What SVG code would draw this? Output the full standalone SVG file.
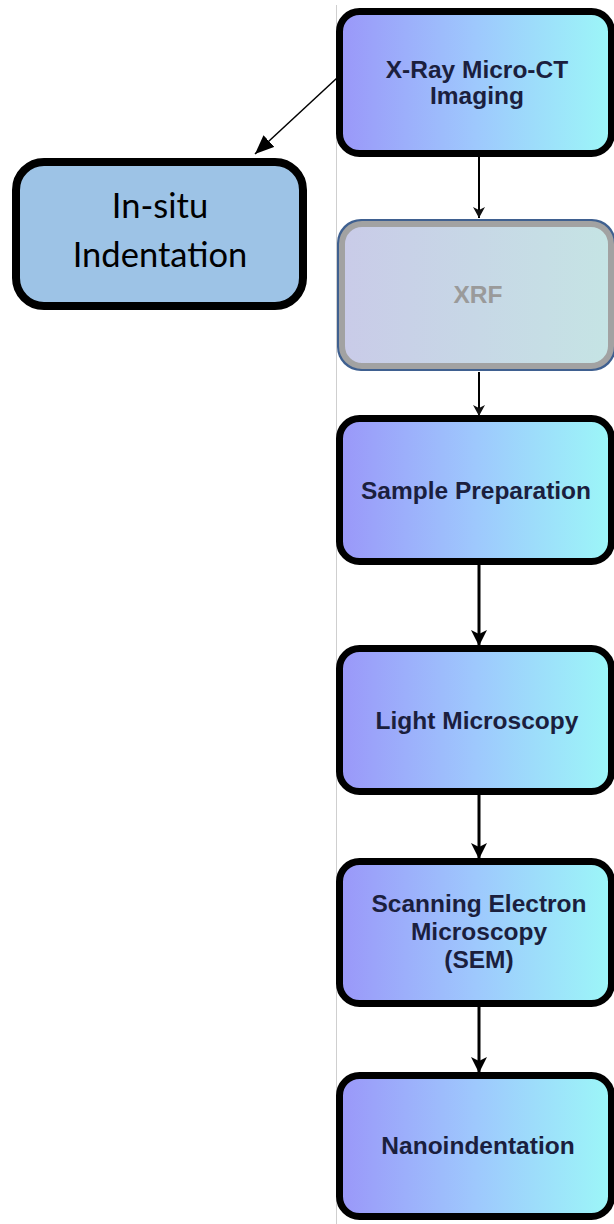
<svg xmlns="http://www.w3.org/2000/svg" width="614" height="1224" viewBox="0 0 614 1224">
<defs>
<linearGradient id="g" x1="0" y1="0" x2="1" y2="0">
<stop offset="0" stop-color="#9a97f9"/>
<stop offset="0.5" stop-color="#9ec8fd"/>
<stop offset="1" stop-color="#9cf7f8"/>
</linearGradient>
<linearGradient id="gx" x1="0" y1="0" x2="1" y2="0">
<stop offset="0" stop-color="#c9cbe8"/>
<stop offset="1" stop-color="#c5e4e4"/>
</linearGradient>
<marker id="ah" markerUnits="userSpaceOnUse" markerWidth="16" markerHeight="18" refX="16" refY="8" orient="auto">
<path d="M0,0 L16,8 L0,16 L4,8 Z" fill="#000"/>
</marker>
<marker id="as" markerUnits="userSpaceOnUse" markerWidth="12" markerHeight="12" refX="11" refY="6" orient="auto">
<path d="M0,0 L11,6 L0,12 L3,6 Z" fill="#111"/>
</marker>
<marker id="ad" markerUnits="userSpaceOnUse" markerWidth="20" markerHeight="18" refX="19" refY="8" orient="auto">
<path d="M0,0 L19,8 L0,16 Z" fill="#000"/>
</marker>
</defs>
<style>
.box{fill:url(#g);stroke:#000;stroke-width:7}
.t{font-family:"Liberation Sans",Arial,sans-serif;font-weight:bold;font-size:24.5px;fill:#1b1f3e;text-anchor:middle}
.c{stroke:#000;fill:none}
.s{font-family:Lato,"Open Sans",sans-serif;font-size:34.5px;fill:#000;text-anchor:middle}
</style>
<line x1="336.5" y1="5" x2="336.5" y2="1224" stroke="#cfcfcf" stroke-width="1"/>
<g id="connectors">
<line class="c" x1="337" y1="78" x2="255" y2="154" stroke-width="1.5" marker-end="url(#ad)"/>
<line class="c" x1="479" y1="157" x2="479" y2="218" stroke="#333" stroke-width="2" marker-end="url(#as)"/>
<line class="c" x1="479" y1="372" x2="479" y2="416" stroke="#333" stroke-width="2" marker-end="url(#as)"/>
<line class="c" x1="479" y1="565" x2="479" y2="646" stroke-width="3" marker-end="url(#ah)"/>
<line class="c" x1="479" y1="795" x2="479" y2="859" stroke-width="3" marker-end="url(#ah)"/>
<line class="c" x1="479" y1="1007" x2="479" y2="1073" stroke-width="3" marker-end="url(#ah)"/>
</g>
<g id="xray">
<rect class="box" x="339.5" y="11.5" width="272" height="142" rx="20"/>
<text class="t" x="477" y="78">X-Ray Micro-CT</text>
<text class="t" x="477" y="104">Imaging</text>
</g>
<g id="insitu">
<rect x="16" y="162" width="287" height="144" rx="28" fill="#9dc3e6" stroke="#000" stroke-width="8"/>
<text class="s" x="160" y="218">In-situ</text>
<text class="s" x="160" y="267">Indentation</text>
</g>
<g id="xrf">
<rect x="337" y="219" width="279" height="152" rx="24" fill="#3f6090"/>
<rect x="342" y="224" width="269" height="142" rx="20" fill="url(#gx)" stroke="#a2a2a2" stroke-width="6"/>
<text class="t" x="478" y="303" style="fill:#9a9a9a">XRF</text>
</g>
<g id="sample">
<rect class="box" x="339.5" y="418.5" width="272" height="143" rx="20"/>
<text class="t" x="476" y="499">Sample Preparation</text>
</g>
<g id="light">
<rect class="box" x="339.5" y="648.5" width="272" height="143" rx="20"/>
<text class="t" x="477" y="729">Light Microscopy</text>
</g>
<g id="sem">
<rect class="box" x="339.5" y="861.5" width="272" height="142" rx="20"/>
<text class="t" x="479" y="912">Scanning Electron</text>
<text class="t" x="479" y="940">Microscopy</text>
<text class="t" x="479" y="968">(SEM)</text>
</g>
<g id="nano">
<rect class="box" x="339.5" y="1075.5" width="272" height="141" rx="20"/>
<text class="t" x="478" y="1154">Nanoindentation</text>
</g>
</svg>
